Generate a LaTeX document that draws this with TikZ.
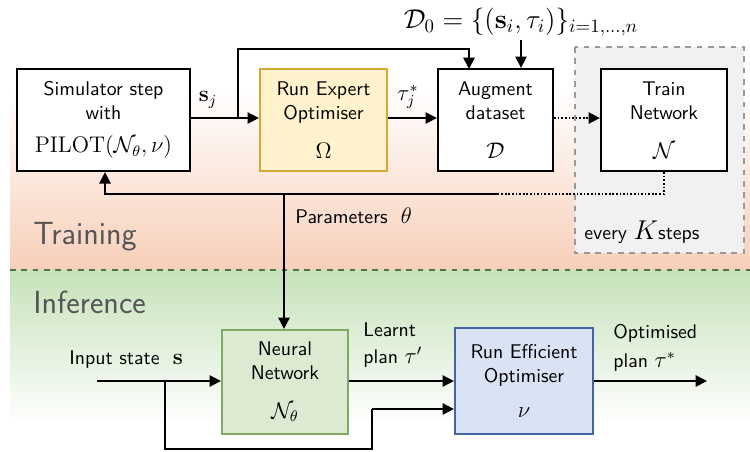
\documentclass[tikz,border=0pt]{standalone}
\usetikzlibrary{arrows.meta,calc}
\definecolor{peach}{RGB}{247,207,185}
\definecolor{mint}{RGB}{198,226,186}
\definecolor{expfill}{RGB}{255,242,204}
\definecolor{expdraw}{RGB}{214,170,50}
\definecolor{nnfill}{RGB}{219,234,208}
\definecolor{nndraw}{RGB}{128,170,100}
\definecolor{efffill}{RGB}{218,227,243}
\definecolor{effdraw}{RGB}{68,100,168}
\definecolor{grayfill}{RGB}{241,241,241}
\definecolor{labgray}{RGB}{85,85,85}
\tikzset{
  box/.style={draw=black, line width=1.2pt, fill=white, align=center, font=\sffamily\fontsize{10.5}{12.6}\selectfont, inner sep=2pt},
  arr/.style={line width=0.9pt, -{Triangle[length=6pt,width=6pt]}},
  ln/.style={line width=0.9pt},
  lab/.style={font=\sffamily\fontsize{10.5}{12.6}\selectfont, align=left, inner sep=0pt},
  phase/.style={font=\sffamily\fontsize{17}{20}\selectfont, text=labgray, anchor=west, inner sep=0pt}
}
\begin{document}
\begin{tikzpicture}[x=0.53pt,y=-0.53pt]
\useasboundingbox (0,0) rectangle (750,451);
% backgrounds
\shade[top color=white, bottom color=peach] (10,90) rectangle (750,270);
\shade[top color=mint, bottom color=white] (10,270) rectangle (750,425);
\draw[dashed, line width=0.8pt, color=black!60!green!40!gray] (10,270) -- (750,270);
\node[phase] (training) at (33,237) {Training};
\node[phase] (inference) at (33,302) {Inference};
% gray every K box
\draw[dashed, draw=gray!80, fill=grayfill, line width=0.6pt] (575,47) rectangle (744,253);
\node[lab, anchor=west] (everyk) at (584,232) {every {\Large $K$}steps};
% boxes
\node[box, minimum width=91.7pt, minimum height=54.1pt] (sim) at (103.5,120)
  {Simulator step\\with\\[5pt] {\large $\mathrm{PILOT}(\mathcal{N}_\theta,\nu)$}};
\node[box, draw=expdraw, fill=expfill, minimum width=67.3pt, minimum height=54.1pt] (exp) at (323.5,120)
  {Run Expert\\Optimiser\\[8pt] {\large $\Omega$}};
\node[box, minimum width=61pt, minimum height=54.1pt] (aug) at (495.5,120)
  {Augment\\dataset\\[8pt] {\large $\mathcal{D}$}};
\node[box, minimum width=66.8pt, minimum height=54.1pt] (train) at (664,120)
  {Train\\Network\\[8pt] {\large $\mathcal{N}$}};
\node[box, draw=nndraw, fill=nnfill, minimum width=66.8pt, minimum height=55.1pt] (nn) at (285,382)
  {Neural\\Network\\[8pt] {\large $\mathcal{N}_\theta$}};
\node[box, draw=effdraw, fill=efffill, minimum width=73.1pt, minimum height=56.2pt] (eff) at (524,381)
  {Run Efficient\\Optimiser\\[6pt] {\large $\nu$}};
% D0 label
\node[inner sep=0pt, font=\Large] (d0) at (521,22) {$\mathcal{D}_0=\{(\mathbf{s}_i,\tau_i)\}_{i=1,\dots,n}$};
\draw[arr] (521,40) -- (aug.north -| 521,0);
% training connectors
\coordinate (br) at (238,118);
\coordinate (top) at (238,49);
\coordinate (loopR) at (469,69);
\draw[arr] (sim.east |- br) -- (exp.west |- br);
\draw[arr] (br) -- (top) -| (loopR);
\node[inner sep=0pt, font=\large] (sj) at (208,100) {$\mathbf{s}_j$};
\draw[arr] (exp.east |- br) -- (aug.west |- br);
\node[inner sep=0pt, font=\large] (tj) at (408,97) {$\tau_j^*$};
\draw[arr, densely dotted] (aug.east |- br) -- (train.west |- br);
\coordinate (fbR) at (664,194);
\coordinate (fbM) at (498,194);
\coordinate (fbL) at (105,194);
\draw[ln, densely dotted] (train.south -| fbR) -- (fbR) -- (fbM);
\draw[arr] (fbM) -- (fbL) -- (sim.south -| fbL);
\coordinate (par) at (284,194);
\draw[arr] (par) -- (nn.north -| par);
\node[lab, anchor=west] (params) at (295,216) {Parameters\ \ {\large $\theta$}};
% inference connectors
\coordinate (in) at (97,381);
\coordinate (b1) at (165,381);
\coordinate (b2) at (165,449);
\coordinate (b3) at (372,449);
\coordinate (b4) at (372,409);
\node[lab, anchor=west] (inlab) at (69,360) {Input state\ \ {\large $\mathbf{s}$}};
\draw[arr] (in) -- (nn.west |- in);
\draw[ln] (b1) -- (b2) -- (b3) -- (b4);
\draw[arr] (b4) -- (eff.west |- b4);
\draw[arr] (nn.east |- in) -- (eff.west |- in);
\node[lab, anchor=west] (learnt) at (363,345) {Learnt\\[2pt]plan {\large $\tau'$}};
\coordinate (out) at (707,381);
\draw[arr] (eff.east |- in) -- (out);
\node[lab, anchor=west] (optlab) at (613,348) {Optimised\\[3pt]plan {\large $\tau^*$}};
\end{tikzpicture}
\end{document}
